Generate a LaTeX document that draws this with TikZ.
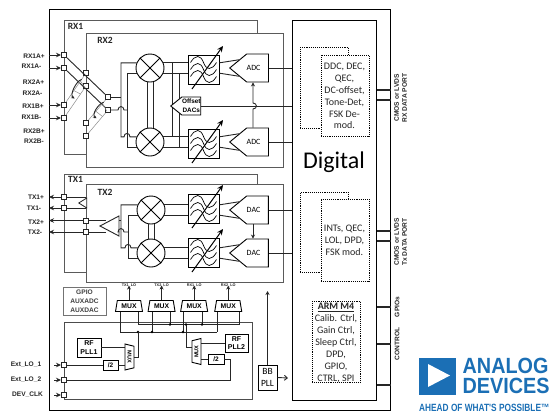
\documentclass[tikz,border=0pt]{standalone}
\usepackage{fontspec}
\setmainfont{Carlito}
\newfontfamily\pinfont{Liberation Sans}
\usepackage{xcolor}
\usetikzlibrary{shapes.geometric, shapes.symbols, arrows.meta, positioning, calc}
\definecolor{adiblue}{HTML}{1B6FB5}
\definecolor{edgegray}{HTML}{5A5A5A}
\newcommand{\hopat}[1]{-- ([xshift=-3pt]#1) .. controls +(0,-4.5) and +(0,-4.5) .. ([xshift=3pt]#1)}
\newcommand{\hopup}[1]{-- ([yshift=-3pt]#1) .. controls +(4.5,0) and +(4.5,0) .. ([yshift=3pt]#1)}

\begin{document}
\begin{tikzpicture}[x=1pt, y=-1pt]
    \tikzstyle{chip} = [rectangle, draw=black, line width=1.4pt, anchor=north west, inner sep=0pt]
    \tikzstyle{region} = [rectangle, draw=edgegray, fill=white, line width=0.9pt, anchor=north west, inner sep=0pt]
    \tikzstyle{regname} = [font=\fontsize{9.5}{10}\selectfont\bfseries, text=black!85, inner sep=0pt]
    \tikzstyle{port} = [rectangle, draw=black!85, fill=white, line width=0.8pt, minimum size=5.2pt, inner sep=0pt]
    \tikzstyle{pin} = [font=\fontsize{6.6}{8}\selectfont\pinfont\bfseries, text=black!85, inner sep=0pt]
    \tikzstyle{wire} = [draw=black!85, line width=0.9pt]
    \tikzstyle{thin link} = [draw=black!45, line width=0.5pt]
    \tikzstyle{mixer} = [circle, draw=black, fill=white, line width=0.9pt, minimum size=28pt, inner sep=0pt, path picture={\draw[line width=0.9pt] (path picture bounding box.north west) -- (path picture bounding box.south east) (path picture bounding box.north east) -- (path picture bounding box.south west);}]
    \tikzstyle{filt} = [rectangle, draw=black, fill=white, line width=0.9pt, minimum width=31pt, minimum height=29pt, inner sep=0pt]
    \tikzstyle{conv} = [signal, signal to=west, signal pointer angle=79, draw=black, fill=white, line width=0.9pt, minimum width=35pt, minimum height=28pt, inner sep=0pt, anchor=west, font=\fontsize{8}{9}\selectfont]
    \tikzstyle{smallbox} = [rectangle, draw=black, fill=white, line width=0.9pt, align=center, inner sep=0pt, font=\fontsize{7}{8.6}\selectfont\pinfont\bfseries]
    \tikzstyle{mux} = [trapezium, trapezium stretches=true, trapezium left angle=76, trapezium right angle=76, draw=black, fill=white, line width=0.9pt, minimum width=27pt, minimum height=11pt, inner sep=0pt, font=\fontsize{6.8}{8}\selectfont\pinfont\bfseries]
    \tikzstyle{rfmux} = [mux, trapezium left angle=72, trapezium right angle=72, minimum width=26pt, minimum height=9pt, font=\fontsize{5.6}{7}\selectfont\pinfont\bfseries]
    \tikzstyle{dspbox} = [rectangle, draw=black, fill=white, densely dotted, line width=0.9pt, anchor=north west, inner sep=0pt]
    \tikzstyle{dsptext} = [align=center, inner sep=0pt, font=\fontsize{10}{11.9}\selectfont, text=black!85]
    \tikzstyle{dot} = [circle, fill=black, minimum size=2.6pt, inner sep=0pt]
    \tikzstyle{logotext} = [anchor=west, inner sep=0pt, text=adiblue, font=\fontsize{22}{22}\selectfont\pinfont\bfseries, transform shape, xscale=0.9]

    \useasboundingbox (0,0) rectangle (552,413);

    % frame and receive side
    \node (chipbox) [chip, minimum width=341pt, minimum height=401pt] at (49,9) {};
    \node (rxone) [region, minimum width=193pt, minimum height=134pt] at (64,20) {};
    \node (rxtwo) [region, minimum width=197pt, minimum height=134pt] at (86,33) {};
    \node (rxonet) [regname] at (75.5,26) {RX1};
    \node (rxtwot) [regname] at (105,40) {RX2};
    \node (digi) [region, draw=black, minimum width=84pt, minimum height=380pt] at (292,20) {};

    \node (rxap) [port] at (64,55) {};
    \node (rxam) [port] at (64,68) {};
    \node (rxbp) [port] at (64,105) {};
    \node (rxbm) [port] at (64,118) {};
    \node (rxcp) [port] at (86,73) {};
    \node (rxcm) [port] at (86,86) {};
    \node (rxdp) [port] at (86,123) {};
    \node (rxdm) [port] at (86,136) {};
    \node (swp) [port] at (108,97) {};
    \node (swm) [port] at (108,110) {};
    \foreach \p/\t/\x/\y in {a/RX1A+/34/56, b/RX1A-/31.5/66, c/RX2A+/33.5/82, d/RX2A-/32.5/93, e/RX1B+/33/106, f/RX1B-/31.5/117, g/RX2B+/34/131, h/RX2B-/34/141}
        \node (rxl\p) [pin] at (\x,\y) {\t};
    \foreach \p in {rxap,rxam,rxbp,rxbm}
        \draw[wire, -{Stealth[length=5pt,width=4.5pt]}] (\p -| chipbox.west) -- (\p.west);
    \draw[wire] (rxap) -- (swp);
    \draw[wire] (rxam) -- (swm);
    \foreach \a/\b in {rxbp/rxcp, rxbm/rxcm, rxdp/swp, rxdm/swm}
        \draw[thin link] (\a) -- (\b);
    \draw[thin link] ($(rxbp)!.45!(rxcp)$) -- ($(rxbm)!.75!(rxcm)$);
    \draw[thin link] ($(rxbp)!.75!(rxcp)$) -- ($(rxbm)!.95!(rxcm)$);
    \draw[thin link] ($(rxdp)!.45!(swp)$) -- ($(rxdm)!.75!(swm)$);
    \draw[thin link] ($(rxdp)!.75!(swp)$) -- ($(rxdm)!.95!(swm)$);
    \draw[wire, -{Stealth[length=3.5pt,width=3.5pt]}] ($(rxbp)!.8!(rxcp)$) .. controls +(-6,2) and +(-5,-3) .. ($(rxbp)!.3!(rxcp)+(4,3)$);
    \draw[wire, -{Stealth[length=3.5pt,width=3.5pt]}] ($(rxdp)!.8!(swp)$) .. controls +(-6,2) and +(-5,-3) .. ($(rxdp)!.3!(swp)+(4,3)$);

    \node (mxra) [mixer] at (150,68) {};
    \node (mxrb) [mixer] at (150,142) {};
    \node (fra) [filt] at (203.5,69.5) {};
    \node (frb) [filt] at (203.5,143.5) {};
    \node (adca) [conv] at (229,68) {ADC\hspace*{8pt}};
    \node (adcb) [conv] at (229,142) {ADC\hspace*{8pt}};

    \coordinate (ria) at (121,0);
    \coordinate (rib) at (127,0);
    \coordinate (tpa) at (172,0);
    \coordinate (tpb) at (179,0);
    \coordinate (arr) at (253,106);
    \draw[wire] (swp) -- (swp -| ria);
    \draw[wire] (swm) \hopat{ria |- swm} -- (swm -| rib);
    \draw[wire] (mxra.159) -- (mxra.159 -| ria) -- (mxrb.159 -| ria) \hopat{rib |- mxrb.159} -- (mxrb.159);
    \draw[wire] (mxra.201) -- (mxra.201 -| rib) -- (mxrb.201 -| rib) -- (mxrb.201);
    \draw[wire] (mxra.258) -- (mxrb.102);
    \draw[wire] (mxra.282) -- (mxrb.78);
    \foreach \m/\f/\c in {mxra/fra/adca, mxrb/frb/adcb} {
        \draw[wire] (\m.21) -- (\m.21 -| \f.west);
        \draw[wire] (\m.-21) -- (\m.-21 -| \f.west);
        \draw[wire] (\f.east |- \m.21) -- (\c.156);
        \draw[wire] (\f.east |- \m.-21) -- (\c.204);
        \draw[wire] (\c.east) -- (\c.east -| digi.west);
    }
    \draw[wire] (tpa |- mxra.21) -- (tpa |- mxrb.21);
    \draw[wire] (tpb |- mxra.-21) -- (tpb |- mxrb.-21);
    \node (ofs) [conv, signal pointer angle=78, minimum width=30pt, minimum height=18pt, font=\fontsize{6.4}{9}\selectfont\pinfont\bfseries, align=center] at (170,106) {Offset\\DACs};
    \draw[wire] (ofs.east) -- (ofs.east -| digi.west);
    \draw[wire, -{Stealth[length=4pt,width=4pt]}] (arr |- adcb.north) \hopup{arr} -- (arr |- adca.south);

    % transmit side
    \node (txone) [region, minimum width=193pt, minimum height=98pt] at (64,174) {};
    \node (txtwo) [region, minimum width=197pt, minimum height=98pt] at (86,184) {};
    \node (txonet) [regname] at (75.5,179.5) {TX1};
    \node (txtwot) [regname] at (105,192) {TX2};
    \node (txap) [port] at (64,197) {};
    \node (txam) [port] at (64,208) {};
    \node (txbp) [port] at (86,220.5) {};
    \node (txbm) [port] at (86,232) {};
    \foreach \p/\t/\x/\y in {a/TX1+/36/197.5, b/TX1-/34/208, c/TX2+/36/222, d/TX2-/35/232}
        \node (txl\p) [pin] at (\x,\y) {\t};
    \foreach \p in {txap,txam,txbp,txbm}
        \draw[wire, -{Stealth[length=5pt,width=4.5pt]}] (\p.west) -- (\p -| chipbox.west);
    \draw[wire] (txap) -- (txap -| txbp);
    \draw[wire] (txam) -- (txam -| txbp);
    \node (ampa) [isosceles triangle, shape border rotate=180, isosceles triangle apex angle=64, isosceles triangle stretches=true, draw=black!85, fill=white, line width=0.8pt, minimum height=8pt, minimum width=10pt, inner sep=0pt, anchor=apex] at (78,203) {};
    \node (ampb) [isosceles triangle, shape border rotate=180, isosceles triangle apex angle=55, isosceles triangle stretches=true, draw=black!85, fill=white, line width=0.9pt, minimum height=19pt, minimum width=20pt, inner sep=0pt, anchor=apex] at (99,226) {};
    \draw[wire] (txbp) -- (txbp -| ampb.155);
    \draw[wire] (txbm) -- (txbm -| ampb.205);

    \node (mxta) [mixer] at (151,210) {};
    \node (mxtb) [mixer] at (151,253) {};
    \node (fta) [filt] at (203.5,208.5) {};
    \node (ftb) [filt] at (203.5,252.5) {};
    \node (daca) [conv] at (229,210) {DAC\hspace*{8pt}};
    \node (dacb) [conv] at (229,253) {DAC\hspace*{8pt}};
    \coordinate (tia) at (121,0);
    \coordinate (tib) at (128,0);
    \coordinate (arx) at (253,0);
    \draw[wire] (ampb.east |- txbp) -- (txbp -| tia);
    \draw[wire] (ampb.east |- txbm) \hopat{tia |- txbm} -- (txbm -| tib);
    \draw[wire] (mxta.159) -- (mxta.159 -| tia) -- (mxtb.159 -| tia) \hopat{tib |- mxtb.159} -- (mxtb.159);
    \draw[wire] (mxta.201) -- (mxta.201 -| tib) -- (mxtb.201 -| tib) -- (mxtb.201);
    \draw[wire] (mxta.258) -- (mxtb.102);
    \draw[wire] (mxta.282) -- (mxtb.78);
    \foreach \m/\f/\c in {mxta/fta/daca, mxtb/ftb/dacb} {
        \draw[wire] (\m.21) -- (\m.21 -| \f.west);
        \draw[wire] (\m.-21) -- (\m.-21 -| \f.west);
        \draw[wire] (\f.east |- \m.21) -- (\c.156);
        \draw[wire] (\f.east |- \m.-21) -- (\c.204);
        \draw[wire] (\c.east) -- (\c.east -| digi.west);
    }
    \draw[wire, -{Stealth[length=4pt,width=4pt]}] (arx |- daca.south) -- (arx |- dacb.north);

    % filter glyphs
    \foreach \f in {fra,frb,fta,ftb} {
        \begin{scope}[shift={(\f.center)}]
            \foreach \k in {-7,0,7}
                \draw[line width=0.7pt] (-13,\k) .. controls (-8,\k-8) and (-3,\k-8) .. (0,\k) .. controls (3,\k+8) and (8,\k+8) .. (13,\k);
            \draw[line width=1pt, -{Stealth[length=6pt,width=5.5pt]}] (-11.5,19.5) -- (19.5,-23.5);
        \end{scope}
    }

    % clocks
    \node (gpbox) [rectangle, draw=black!55, line width=0.9pt, minimum width=43pt, minimum height=28pt, align=center, inner sep=0pt, text=black!75, font=\fontsize{6.6}{8.8}\selectfont\pinfont\bfseries] at (84.5,301) {GPIO\\AUXADC\\AUXDAC};
    \node (lobox) [region, draw=black!70, minimum width=188pt, minimum height=77pt] at (64,322) {};
    \coordinate (busl) at (0,332);
    \coordinate (busu) at (0,324.5);
    \node (mua) [mux] at (129,306) {MUX};
    \node (mub) [mux, right=6.5pt of mua] {MUX};
    \node (muc) [mux, right=6.5pt of mub] {MUX};
    \node (mud) [mux, right=8pt of muc] {MUX};
    \foreach \m/\t in {mua/TX1, mub/TX2, muc/RX1, mud/RX2} {
        \node (\m t) [pin, font=\fontsize{3.8}{4}\selectfont\pinfont\bfseries, above=12.5pt of \m.north] {\t\_LO};
        \draw[wire, -{Stealth[length=4pt,width=4pt]}] (\m.north) -- ([yshift=2pt]\m t.south);
    }
    \foreach \m/\a in {mua/120, mub/152, muc/183, mud/217}
        \draw[wire] (\a,0 |- \m.south) -- (\a,0 |- busl);
    \foreach \m/\a in {mua/138, mub/170, muc/202, mud/239}
        \draw[wire] (\a,0 |- \m.south) -- (\a,0 |- busu);
    \draw[wire] (120,0 |- busl) -- (217,0 |- busl);
    \draw[wire] (138,0 |- busu) -- (239,0 |- busu);
    \foreach \x/\b in {138/busl, 152/busl, 183/busl, 170/busu, 186/busu, 202/busu}
        \node (dot\x) [dot] at (\x,0 |- \b) {};

    \node (pllaa) [smallbox, minimum width=24pt, minimum height=19pt] at (89,347.5) {RF\\PLL1};
    \node (pllb) [smallbox, minimum width=23pt, minimum height=18pt] at (236.5,343) {RF\\PLL2};
    \node (diva) [smallbox, minimum width=15pt, minimum height=10pt, font=\fontsize{6.5}{8}\selectfont\pinfont\bfseries] at (110.5,365) {/2};
    \node (divb) [smallbox, minimum width=16pt, minimum height=9.5pt, font=\fontsize{6.5}{8}\selectfont\pinfont\bfseries] at (216,359.5) {/2};
    \node (rfma) [rfmux, rotate=-90] at (129.5,357) {MUX};
    \node (rfmb) [rfmux, rotate=90] at (196.5,351.5) {MUX};
    \node (lop) [port] at (64,365) {};
    \node (lom) [port] at (64,380) {};
    \node (clk) [port] at (64,395) {};
    \node (lopt) [pin] at (26,365) {Ext\_LO\_1};
    \node (lomt) [pin] at (26,380) {Ext\_LO\_2};
    \node (clkt) [pin] at (27.5,395) {DEV\_CLK};
    \foreach \p in {lop,lom,clk}
        \draw[wire, -{Stealth[length=5pt,width=4.5pt]}] (\p -| chipbox.west) ++(5,0) -- (\p.west);
    \coordinate (lotn) at (230,0);
    \coordinate (fbin) at (192,347);
    \draw[wire] (lop) -- (diva);
    \draw[wire] (diva) -- (diva -| rfma.south);
    \draw[wire] (pllaa) -- (pllaa -| rfma.south);
    \draw[wire] (rfma.north) -| (138,0 |- busl);
    \draw[wire] (lom) -| (divb -| lotn) -- (divb);
    \draw[wire] (divb) -- (divb -| rfmb.south);
    \draw[wire] (pllb) -- (pllb -| rfmb.south);
    \draw[wire] (186,0 |- busu) |- (fbin);

    \node (bbpll) [rectangle, draw=black, fill=white, line width=0.9pt, minimum width=19pt, minimum height=25pt, align=center, inner sep=0pt, font=\fontsize{9.5}{12}\selectfont] at (267.5,377.5) {BB\\PLL};
    \coordinate (bbout) at (288,378);
    \coordinate (bbtop) at (267.5,291);
    \draw[wire, -{Stealth[length=4pt,width=4pt]}] (bbpll.north) -- (bbtop);
    \draw[wire, -{Straight Barb[length=3pt,width=5pt]}] (bbpll.east) -- (bbout);

    % digital blocks
    \node (dglabel) [inner sep=0pt, font=\fontsize{24}{26}\selectfont] at (334,162) {Digital};
    \node (rxback) [dspbox, minimum width=48pt, minimum height=81pt] at (300,47) {};
    \node (rxdsp) [dspbox, minimum width=48pt, minimum height=81pt] at (320.5,55) {};
    \node (rxdspt) [dsptext] at (344.5,96) {DDC, DEC,\\QEC,\\DC-offset,\\Tone-Det,\\FSK De-\\mod.};
    \node (txback) [dspbox, minimum width=48pt, minimum height=80pt] at (300,192) {};
    \node (txdsp) [dspbox, minimum width=48pt, minimum height=82pt] at (320.5,199) {};
    \node (txdspt) [dsptext] at (344.5,240) {INTs, QEC,\\LOL, DPD,\\FSK mod.};
    \node (armbox) [dspbox, minimum width=48pt, minimum height=81pt] at (312,301) {};
    \node (armt) [dsptext] at (336,343) {\underline{\textbf{ARM M4}}\\Calib. Ctrl,\\Gain Ctrl,\\Sleep Ctrl,\\DPD,\\GPIO,\\CTRL, SPI};

    \foreach \y in {90,100,231,241,307,344,385}
        \draw[wire, line width=1.1pt] (digi.east |- 0,\y) -- (chipbox.east |- 0,\y);
    \foreach \p/\t/\y in {a/{CMOS or LVDS\\RX DATA PORT}/98, b/{CMOS or LVDS\\Tx DATA PORT}/242}
        \node (port\p) [pin, rotate=90, align=center] at (400.5,\y) {\t};
    \node (portc) [pin, rotate=90] at (397,307) {GPIOs};
    \node (portd) [pin, rotate=90] at (397,344) {CONTROL};

    % logo
    \node (logobox) [rectangle, fill=adiblue, minimum size=37pt, inner sep=0pt, anchor=north west] at (419,358) {};
    \fill[white] (428,364) -- (428,387) -- (450,375.5) -- cycle;
    \node (logoa) [logotext] at (462.5,365.5) {ANALOG};
    \node (logob) [logotext] at (462.5,385.5) {DEVICES};
    \node (logoc) [logotext, font=\fontsize{10.5}{11}\selectfont\pinfont\bfseries, xscale=0.88] at (419,408) {AHEAD OF WHAT'S POSSIBLE™};
\end{tikzpicture}
\end{document}
